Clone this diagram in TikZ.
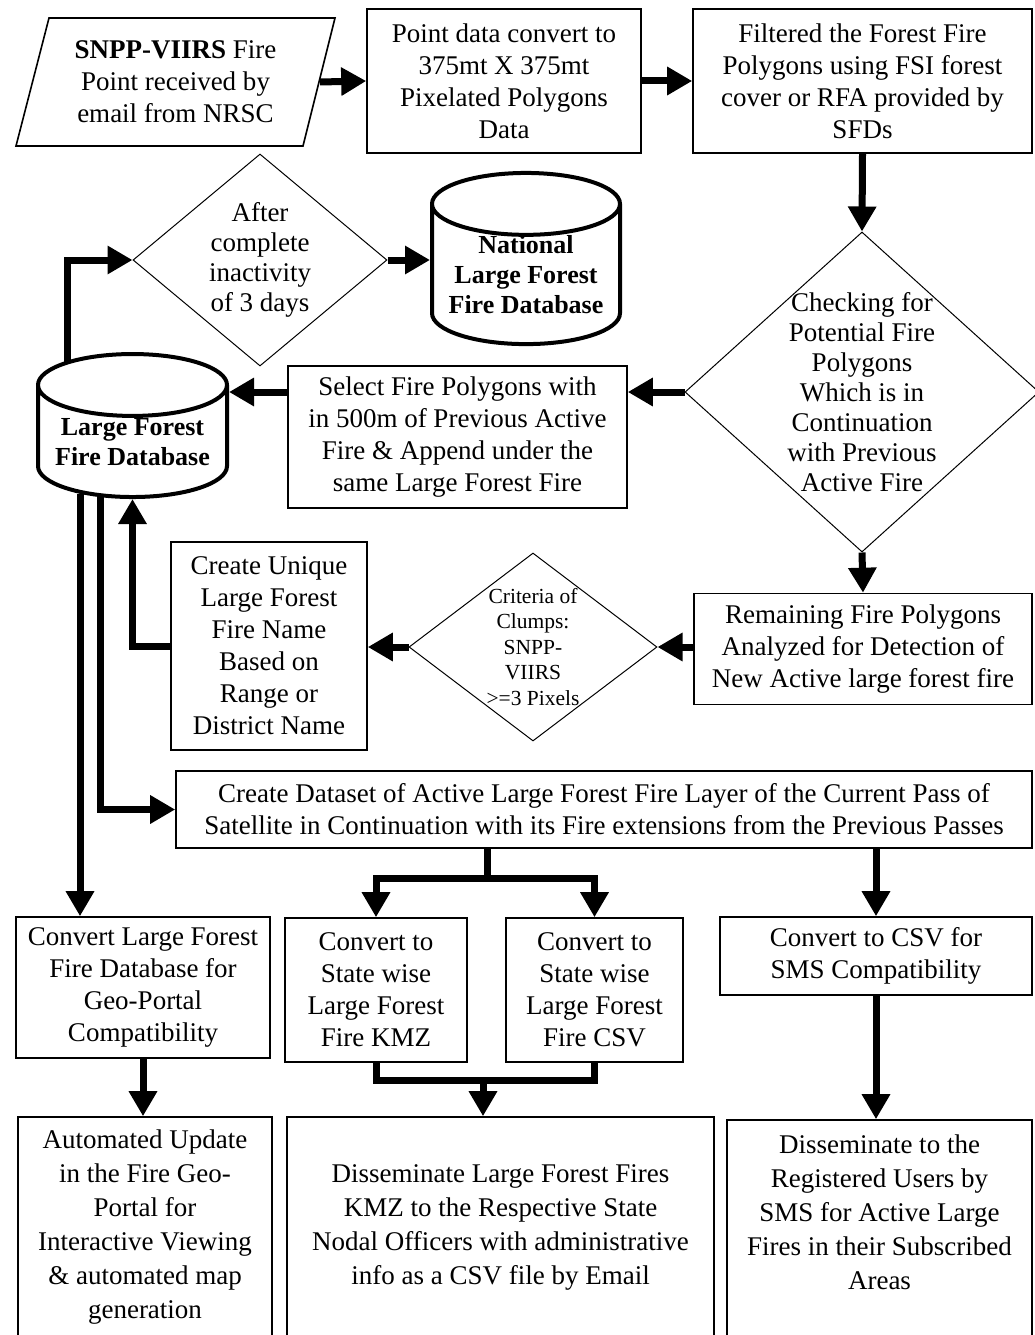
\documentclass[tikz,border=0pt]{standalone}
\usepackage{fontspec}
\setmainfont{Liberation Serif}
\usetikzlibrary{arrows.meta,shapes.geometric}
\tikzset{
  procbox/.style={draw,line width=1.6pt,align=center,inner sep=0pt,font=\fontsize{27}{32}\selectfont},
  lastbox/.style={procbox,font=\fontsize{27}{34}\selectfont},
  decision/.style={diamond,draw,line width=1pt,align=center,inner sep=-40pt,font=\fontsize{27}{30}\selectfont},
  database/.style={cylinder,shape border rotate=90,draw,line width=4pt,aspect=0.4,align=center,inner sep=0pt,font=\bfseries\fontsize{26}{30}\selectfont},
  flow/.style={line width=7pt,-{Triangle[length=25pt,width=27pt]}},
  link/.style={line width=7pt}
}
\begin{document}
\begin{tikzpicture}[x=1pt,y=-1pt]
  \useasboundingbox (0,0) rectangle (1035,1335);
  \draw[line width=1.6pt] (49,18) -- (335,18) -- (303,146) -- (16,146) -- cycle;
  \node[procbox,draw=none] (input) at (175.5,82) {\textbf{SNPP-VIIRS} Fire\\Point received by\\email from NRSC};
  \node[procbox,minimum width=274pt,minimum height=144pt] (pixel) at (504,81) {Point data convert to\\375mt X 375mt\\Pixelated Polygons\\Data};
  \node[procbox,minimum width=339pt,minimum height=144pt] (filter) at (862.5,81) {Filtered the Forest Fire\\Polygons using FSI forest\\cover or RFA provided by\\SFDs};
  \node[decision,minimum width=354pt,minimum height=320pt] (check) at (862,392) {Checking for\\Potential Fire\\Polygons\\Which is in\\Continuation\\with Previous\\Active Fire};
  \node[decision,minimum width=254pt,minimum height=212pt] (after) at (260,260) {After\\complete\\inactivity\\of 3 days};
  \node[database,inner ysep=-1pt,minimum width=188pt,minimum height=160pt] (nlffd) at (526,275) {National\\Large Forest\\Fire Database};
  \node[database,minimum width=189pt,minimum height=143pt] (lffd) at (132.5,442) {Large Forest\\Fire Database};
  \node[procbox,minimum width=339pt,minimum height=142pt] (select) at (457.5,437) {Select Fire Polygons with\\in 500m of Previous Active\\Fire \& Append under the\\same Large Forest Fire};
  \node[procbox,minimum width=338pt,minimum height=111pt] (remain) at (863,649) {Remaining Fire Polygons\\Analyzed for Detection of\\New Active large forest fire};
  \node[decision,minimum width=248pt,minimum height=188pt,font=\fontsize{21.5}{25.5}\selectfont] (crit) at (533,647) {Criteria of\\Clumps:\\SNPP-\\VIIRS\\>=3 Pixels};
  \node[procbox,minimum width=196pt,minimum height=208pt] (unique) at (269,646) {Create Unique\\Large Forest\\Fire Name\\Based on\\Range or\\District Name};
  \node[procbox,minimum width=856pt,minimum height=77pt] (dataset) at (604,809.5) {Create Dataset of Active Large Forest Fire Layer of the Current Pass of\\Satellite in Continuation with its Fire extensions from the Previous Passes};
  \node[procbox,minimum width=254pt,minimum height=141pt] (geo) at (143,987.5) {Convert Large Forest\\Fire Database for\\Geo-Portal\\Compatibility};
  \node[procbox,minimum width=182pt,minimum height=144pt] (kmz) at (376,990) {Convert to\\State wise\\Large Forest\\Fire KMZ};
  \node[procbox,minimum width=177pt,minimum height=144pt] (csv) at (594.5,990) {Convert to\\State wise\\Large Forest\\Fire CSV};
  \node[procbox,minimum width=312pt,minimum height=78pt] (sms) at (876,956) {Convert to CSV for\\SMS Compatibility};
  \node[lastbox,minimum width=254pt,minimum height=221pt] (auto) at (145,1227.5) {Automated Update\\in the Fire Geo-\\Portal for\\Interactive Viewing\\\& automated map\\generation};
  \node[lastbox,minimum width=427pt,minimum height=221pt] (dissem) at (500.5,1227.5) {Disseminate Large Forest Fires\\KMZ to the Respective State\\Nodal Officers with administrative\\info as a CSV file by Email};
  \node[lastbox,minimum width=305pt,minimum height=218pt] (smsout) at (879.5,1229) {Disseminate to the\\Registered Users by\\SMS for Active Large\\Fires in their Subscribed\\Areas\\\mbox{}};
  \coordinate (inputout) at (320,82);
  \coordinate (lffdtop) at (67,362);
  \coordinate (lffdleft) at (80,494);
  \coordinate (lffdmid) at (100,496);
  \coordinate (split) at (487,878);
  \coordinate (merge) at (483,1080);
  \draw[flow] (inputout) -- (pixel.west);
  \draw[flow] (pixel.east) -- (filter.west);
  \draw[flow] (filter.south) -- (check.north);
  \draw[flow] (check.west) -- (select.east |- check.west);
  \draw[flow] (select.west |- check.west) -- (lffd.east |- check.west);
  \draw[flow] (lffdtop) |- (after.west);
  \draw[flow] (after.east) -- (after.east -| nlffd.west);
  \draw[flow] (check.south) -- (remain.north);
  \draw[flow] (remain.west |- crit.east) -- (crit.east);
  \draw[flow] (crit.west) -- (unique.east |- crit.west);
  \draw[flow] (unique.west) -| (lffd.south);
  \draw[flow] (lffdleft) -- (lffdleft |- geo.north);
  \draw[flow] (lffdmid) |- (dataset.west);
  \draw[link] (split |- dataset.south) -- (split);
  \draw[flow] (split) -| (kmz.north);
  \draw[flow] (split) -| (csv.north);
  \draw[flow] (dataset.south -| sms.north) -- (sms.north);
  \draw[flow] (geo.south) -- (geo.south |- auto.north);
  \draw[link] (kmz.south) |- (merge) -| (csv.south);
  \draw[flow] (merge) -- (merge |- dissem.north);
  \draw[flow] (sms.south) -- (sms.south |- smsout.north);
\end{tikzpicture}
\end{document}
